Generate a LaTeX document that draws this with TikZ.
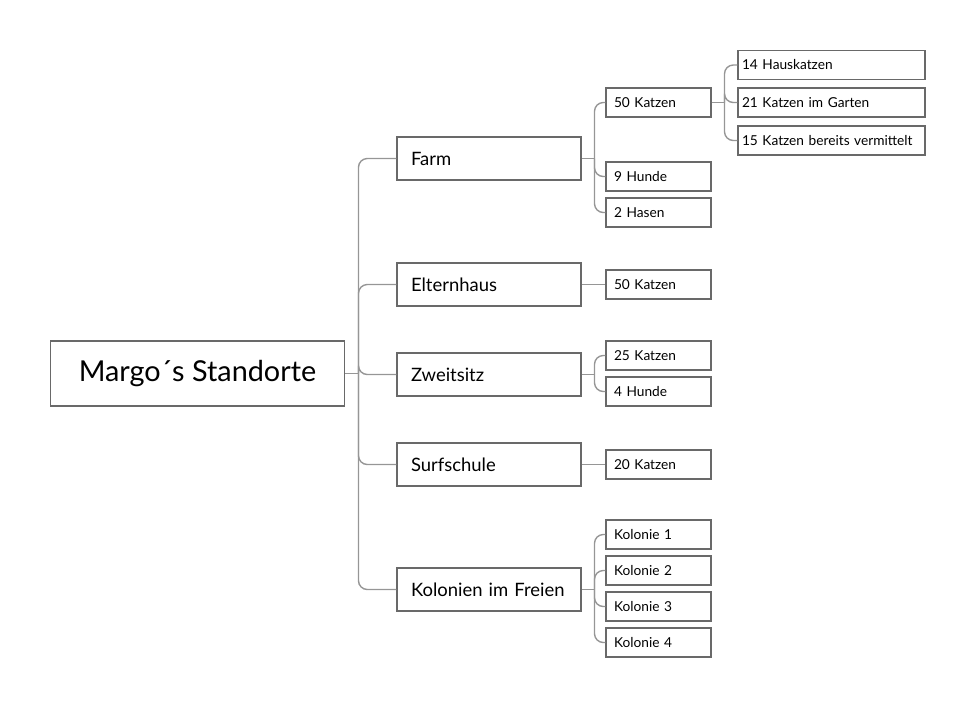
\documentclass[tikz,border=0pt]{standalone}
\usepackage{fontspec}
\setmainfont{Lato}
\usepackage{xcolor}
\definecolor{boxline}{RGB}{105,105,105}
\definecolor{linkline}{RGB}{150,150,150}
\usepackage{tikz}

\begin{document}
\begin{tikzpicture}[x=0.02cm, y=-0.02cm,
        rootbox/.style={rectangle, draw=boxline, line width=0.6pt, minimum width=5.9cm, minimum height=1.3cm, font=\fontsize{16.4}{20}\selectfont},
        place/.style={rectangle, draw=boxline, line width=0.6pt, text width=3.12cm, inner xsep=0.28cm, minimum height=0.86cm, align=left, font=\fontsize{10.5}{13}\selectfont},
        animal/.style={rectangle, draw=boxline, line width=0.6pt, text width=1.78cm, inner xsep=0.16cm, minimum height=0.58cm, align=left, font=\fontsize{7.8}{9}\selectfont},
        detail/.style={rectangle, draw=boxline, line width=0.6pt, text width=3.58cm, inner xsep=0.08cm, minimum height=0.58cm, align=left, font=\fontsize{7.8}{9}\selectfont},
        link/.style={draw=linkline, line width=0.8pt, rounded corners=5pt}
    ]
        \useasboundingbox (0,0) rectangle (975,708);

        \node[rootbox] (root) at (197.5, 373.5) {Margo´s Standorte};

        \node[place] (farm) at (489, 158.5) {Farm};
        \node[place] (eltern) at (489, 284.5) {Elternhaus};
        \node[place] (zweit) at (489, 374.5) {Zweitsitz};
        \node[place] (surf) at (489, 464.5) {Surfschule};
        \node[place] (kolonien) at (489, 589.5) {Kolonien im Freien};

        \node[animal] (farmkatzen) at (658.5, 102.5) {50 Katzen};
        \node[animal] (farmhunde) at (658.5, 176.5) {9 Hunde};
        \node[animal] (farmhasen) at (658.5, 212.5) {2 Hasen};
        \node[animal] (elternkatzen) at (658.5, 284.5) {50 Katzen};
        \node[animal] (zweitkatzen) at (658.5, 355.5) {25 Katzen};
        \node[animal] (zweithunde) at (658.5, 391.5) {4 Hunde};
        \node[animal] (surfkatzen) at (658.5, 464.5) {20 Katzen};
        \node[animal] (kolonie1) at (658.5, 534.5) {Kolonie 1};
        \node[animal] (kolonie2) at (658.5, 570.5) {Kolonie 2};
        \node[animal] (kolonie3) at (658.5, 606.5) {Kolonie 3};
        \node[animal] (kolonie4) at (658.5, 642.5) {Kolonie 4};

        \node[detail] (haus) at (831.5, 65) {14 Hauskatzen};
        \node[detail] (garten) at (831.5, 102.5) {21 Katzen im Garten};
        \node[detail] (vermittelt) at (831.5, 140.5) {15 Katzen bereits vermittelt};

        % hubs where the branches split
        \coordinate (hub) at ([xshift=0.26cm]root.east);
        \coordinate (farmhub) at ([xshift=0.26cm]farm.east);
        \coordinate (zweithub) at ([xshift=0.26cm]zweit.east);
        \coordinate (kolhub) at ([xshift=0.26cm]kolonien.east);
        \coordinate (katzenhub) at ([xshift=0.26cm]farmkatzen.east);

        \draw[link] (root.east) -- (hub);
        \foreach \c in {farm, eltern, zweit, surf, kolonien}
            \draw[link] (hub) |- (\c.west);

        \draw[link] (farm.east) -- (farmhub);
        \foreach \c in {farmkatzen, farmhunde, farmhasen}
            \draw[link] (farmhub) |- (\c.west);

        \draw[link] (eltern.east) -- (elternkatzen.west);

        \draw[link] (zweit.east) -- (zweithub);
        \foreach \c in {zweitkatzen, zweithunde}
            \draw[link] (zweithub) |- (\c.west);

        \draw[link] (surf.east) -- (surfkatzen.west);

        \draw[link] (kolonien.east) -- (kolhub);
        \foreach \c in {kolonie1, kolonie2, kolonie3, kolonie4}
            \draw[link] (kolhub) |- (\c.west);

        \draw[link] (farmkatzen.east) -- (katzenhub);
        \foreach \c in {haus, garten, vermittelt}
            \draw[link] (katzenhub) |- (\c.west);
    \end{tikzpicture}
\end{document}
